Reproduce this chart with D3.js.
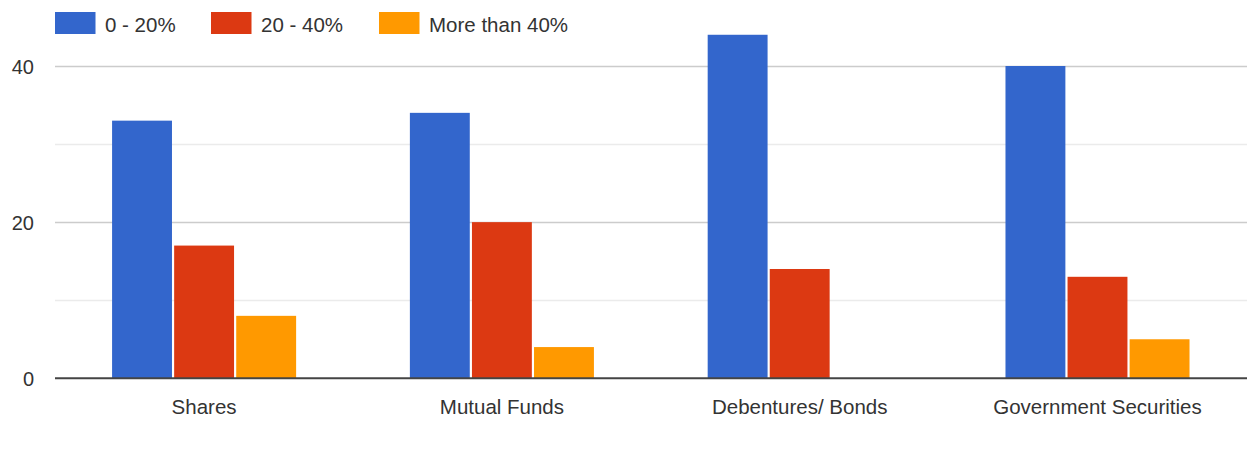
<!DOCTYPE html>
<html>
<head>
<meta charset="utf-8">
<script src="https://cdn.jsdelivr.net/npm/d3@7"></script>
<style>
  html, body { margin: 0; padding: 0; background: #fff; }
  svg { display: block; }
  text { font-family: "Liberation Sans", Arial, sans-serif; fill: #333; }
</style>
</head>
<body>
<svg id="chart" width="1247" height="462"></svg>
<script>
// Share of respondents by return band, per investment avenue
const categories = ["Shares", "Mutual Funds", "Debentures/ Bonds", "Government Securities"];
const seriesNames = ["0 - 20%", "20 - 40%", "More than 40%"];
const band0to20 = [33, 34, 44, 40];
const band20to40 = [17, 20, 14, 13];
const bandOver40 = [8, 4, 0, 5];
const yTicks = [0, 10, 20, 30, 40];
const yLabelTicks = [0, 20, 40];

const seriesValues = [band0to20, band20to40, bandOver40];
const colors = ["#3366cc", "#dc3912", "#ff9900"];

const svg = d3.select("#chart");

const x0 = d3.scaleBand()
  .domain(categories)
  .range([55.2, 1246.4])
  .paddingInner(0.382)
  .paddingOuter(0.191);

const x1 = d3.scaleBand()
  .domain(seriesNames)
  .range([0, x0.bandwidth()])
  .paddingInner(0.035)
  .paddingOuter(0);

const y = d3.scaleLinear()
  .domain([0, 40])
  .range([378.3, 66]);

// Gridlines: majors at labelled ticks, lighter minors between
const grid = svg.append("g");
grid.selectAll("line")
  .data(yTicks.filter(d => d !== 0))
  .join("line")
  .attr("x1", 55)
  .attr("x2", 1247)
  .attr("y1", d => Math.round(y(d)) + 0.5)
  .attr("y2", d => Math.round(y(d)) + 0.5)
  .attr("stroke", d => yLabelTicks.includes(d) ? "#cccccc" : "#ebebeb")
  .attr("stroke-width", 1.5);

// Y axis labels
const yAxis = d3.axisLeft(y).tickValues(yLabelTicks).tickSize(0).tickPadding(0);
const yAxisG = svg.append("g")
  .attr("transform", "translate(34,0)")
  .call(yAxis);
yAxisG.select(".domain").remove();
yAxisG.selectAll("text")
  .attr("font-size", 20)
  .attr("font-family", "'Liberation Sans', Arial, sans-serif")
  .attr("fill", "#444")
  .attr("dy", "0.35em");

// Bars
const groups = svg.append("g")
  .selectAll("g")
  .data(categories)
  .join("g")
  .attr("transform", d => `translate(${x0(d)},0)`);

groups.selectAll("rect")
  .data((d, i) => seriesNames.map((s, k) => ({ s, v: seriesValues[k][i], k })))
  .join("rect")
  .attr("x", d => x1(d.s))
  .attr("width", x1.bandwidth())
  .attr("y", d => y(d.v))
  .attr("height", d => y(0) - y(d.v))
  .attr("fill", d => colors[d.k]);

// Baseline
svg.append("line")
  .attr("x1", 55)
  .attr("x2", 1247)
  .attr("y1", y(0))
  .attr("y2", y(0))
  .attr("stroke", "#444")
  .attr("stroke-width", 2);

// Category axis labels
const xAxis = d3.axisBottom(x0).tickSize(0).tickPadding(0);
const xAxisG = svg.append("g")
  .attr("transform", "translate(0,414)")
  .call(xAxis);
xAxisG.select(".domain").remove();
xAxisG.selectAll("text")
  .attr("font-size", 20.5)
  .attr("font-family", "'Liberation Sans', Arial, sans-serif")
  .attr("fill", "#333")
  .attr("dy", 0)
  .attr("y", 0);

// Legend
const legendX = [55, 211, 379];
const legend = svg.append("g")
  .selectAll("g")
  .data(seriesNames)
  .join("g")
  .attr("transform", (d, i) => `translate(${legendX[i]},12)`);

legend.append("rect")
  .attr("width", 40.5)
  .attr("height", 22)
  .attr("fill", (d, i) => colors[i]);

legend.append("text")
  .attr("x", 50)
  .attr("y", 20)
  .attr("font-size", 20.5)
  .attr("fill", "#333")
  .text(d => d);
</script>
</body>
</html>
